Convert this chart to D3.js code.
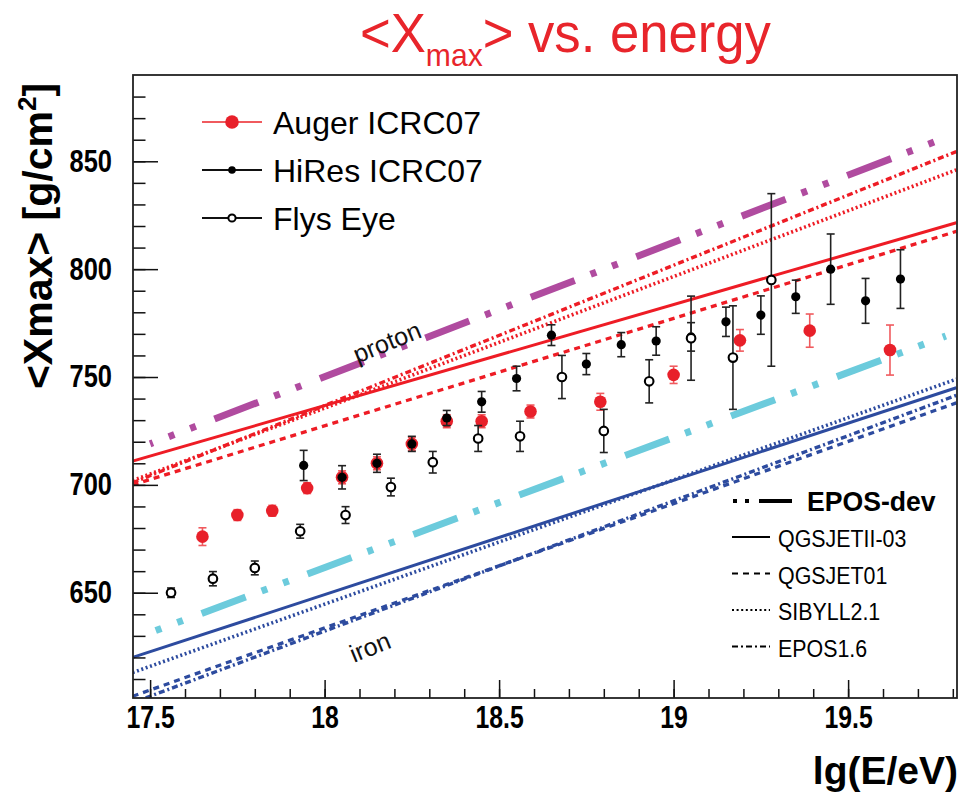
<!DOCTYPE html>
<html>
<head>
<meta charset="utf-8">
<script src="https://cdn.jsdelivr.net/npm/d3@7"></script>
<style>
  body { margin: 0; background: #fff; }
  svg { display: block; }
  text { font-family: "Liberation Sans", Arial, Helvetica, sans-serif; }
</style>
</head>
<body>
<svg id="chart" width="971" height="796"></svg>
<script>
// ---- data -------------------------------------------------------------
const xMajorTicks = [17.5, 18, 18.5, 19, 19.5];
const yMajorTicks = [650, 700, 750, 800, 850];

// Auger ICRC07
const augerLgE  = [17.65, 17.75, 17.85, 17.95, 18.05, 18.15, 18.25, 18.35, 18.45, 18.59, 18.79, 19.00, 19.19, 19.39, 19.62];
const augerXmax = [676, 686, 688, 698.5, 703.5, 710, 719, 729.5, 729.5, 734, 738.5, 751, 767, 771.5, 762.5];
const augerErr  = [4.1, 2.5, 2.5, 2.5, 3, 3, 3, 3, 3, 3, 3.9, 4, 5, 7.7, 11.6];

// HiRes ICRC07
const hiresLgE  = [17.94, 18.05, 18.15, 18.25, 18.35, 18.45, 18.55, 18.65, 18.75, 18.85, 18.95, 19.05, 19.15, 19.25, 19.35, 19.45, 19.55, 19.65];
const hiresXmax = [709, 703.5, 710, 719, 731, 738.5, 749.3, 769.4, 756, 765, 766.7, 768.6, 775.6, 778.7, 787.2, 800, 785.3, 795.4];
const hiresErr  = [7, 5.4, 4.2, 3.5, 3.5, 4.8, 5.7, 4.8, 4.9, 5.6, 6.6, 6.6, 6.8, 8.9, 7.7, 16.3, 10.4, 13.6];

// Fly's Eye
const flysLgE  = [17.56, 17.68, 17.80, 17.93, 18.06, 18.19, 18.31, 18.44, 18.56, 18.68, 18.80, 18.93, 19.05, 19.17, 19.28];
const flysXmax = [650, 656.5, 661.5, 678.5, 686, 699, 710.5, 721.5, 722.5, 750, 725, 748, 768, 759, 795];
const flysErr  = [2.2, 3.3, 3.2, 3.2, 3.9, 4.1, 5, 6, 7, 10, 10, 10, 19.5, 24, 40];

// hadronic interaction model predictions (straight lines in lg E)
const modelNames  = ["QGSJETII-03", "QGSJET01", "SIBYLL2.1", "EPOS1.6"];
const modelLgE    = [17.45, 19.81];
const protonStart = [711, 700, 702, 701];
const protonEnd   = [821.5, 817.5, 846, 854.5];
const ironStart   = [620, 602, 613, 599];
const ironEnd     = [745, 738, 749, 741.5];

const eposDevLgE    = [17.5, 19.78];
const eposDevProton = [719, 861];
const eposDevIron   = [631.5, 769];

// ---- layout -----------------------------------------------------------
const frame = { left: 133, right: 957, top: 75, bottom: 698 };
const svg = d3.select("#chart");

const x = d3.scaleLinear().domain([17.451, 19.812]).range([frame.left, frame.right]);
const y = d3.scaleLinear().domain([601.2, 890]).range([frame.bottom, frame.top]);

const RED = "#ee1c25", BLUE = "#2d4b9f", MAGENTA = "#b04b9f", CYAN = "#6ccbdc";
const dashes = { "QGSJETII-03": null, "QGSJET01": "6,5", "SIBYLL2.1": "2,2.6", "EPOS1.6": "6,3,2,3" };
const widths = { "QGSJETII-03": 3, "QGSJET01": 3.3, "SIBYLL2.1": 3.6, "EPOS1.6": 3.4 };

// squeeze text horizontally (narrow Helvetica look)
function condense(sel, k) {
  sel.each(function () {
    const w = this.getComputedTextLength();
    this.setAttribute("textLength", w * k);
    this.setAttribute("lengthAdjust", "spacingAndGlyphs");
  });
}

svg.append("defs").append("clipPath").attr("id", "plotclip")
  .append("rect")
  .attr("x", frame.left).attr("y", frame.top)
  .attr("width", frame.right - frame.left).attr("height", frame.bottom - frame.top);

// ---- title ------------------------------------------------------------
const title = svg.append("text")
  .attr("x", 360).attr("y", 52)
  .attr("fill", "#e8252b").attr("font-size", 56);
title.append("tspan").text("<X");
title.append("tspan").attr("font-size", 32).attr("dy", 14).text("max");
title.append("tspan").attr("dy", -14).text("> vs. energy");
title.call(condense, 0.94);

// ---- model lines ------------------------------------------------------
const plot = svg.append("g").attr("clip-path", "url(#plotclip)");
const line = d3.line().x(d => x(d[0])).y(d => y(d[1]));

modelNames.forEach((name, i) => {
  plot.append("path")
    .attr("d", line([[modelLgE[0], protonStart[i]], [modelLgE[1], protonEnd[i]]]))
    .attr("fill", "none").attr("stroke", RED).attr("stroke-width", widths[name])
    .attr("stroke-dasharray", dashes[name]);
  plot.append("path")
    .attr("d", line([[modelLgE[0], ironStart[i]], [modelLgE[1], ironEnd[i]]]))
    .attr("fill", "none").attr("stroke", BLUE).attr("stroke-width", widths[name])
    .attr("stroke-dasharray", dashes[name]);
});

// EPOS-dev: thick dot-dot-dash
plot.append("path")
  .attr("d", line(eposDevLgE.map((e, i) => [e, eposDevProton[i]])))
  .attr("fill", "none").attr("stroke", MAGENTA).attr("stroke-width", 7)
  .attr("stroke-dasharray", "47,17,6,17,6,20").attr("stroke-dashoffset", 44);
plot.append("path")
  .attr("d", line(eposDevLgE.map((e, i) => [e, eposDevIron[i]])))
  .attr("fill", "none").attr("stroke", CYAN).attr("stroke-width", 7)
  .attr("stroke-dasharray", "47,17,6,17,6,20").attr("stroke-dashoffset", 58);

// composition labels
svg.append("text").attr("transform", "translate(387,342) rotate(-22)")
  .attr("text-anchor", "middle").attr("dy", "0.35em")
  .attr("font-size", 25).attr("fill", "#111").text("proton");
svg.append("text").attr("transform", "translate(370,647) rotate(-22)")
  .attr("text-anchor", "middle").attr("dy", "0.35em")
  .attr("font-size", 25).attr("fill", "#111").text("iron");

// ---- data points ------------------------------------------------------
function errorBars(lg, val, err, color) {
  const g = plot.append("g").attr("stroke", color).attr("stroke-width", 1.6);
  lg.forEach((e, i) => {
    const cx = x(e), y0 = y(val[i] - err[i]), y1 = y(val[i] + err[i]);
    g.append("line").attr("x1", cx).attr("x2", cx).attr("y1", y0).attr("y2", y1);
    g.append("line").attr("x1", cx - 4).attr("x2", cx + 4).attr("y1", y0).attr("y2", y0);
    g.append("line").attr("x1", cx - 4).attr("x2", cx + 4).attr("y1", y1).attr("y2", y1);
  });
}

errorBars(augerLgE, augerXmax, augerErr, "#f05a5e");
plot.append("g").selectAll("circle").data(augerLgE).join("circle")
  .attr("cx", d => x(d)).attr("cy", (d, i) => y(augerXmax[i]))
  .attr("r", 6.3).attr("fill", "#e8202a");

errorBars(hiresLgE, hiresXmax, hiresErr, "#222");
plot.append("g").selectAll("circle").data(hiresLgE).join("circle")
  .attr("cx", d => x(d)).attr("cy", (d, i) => y(hiresXmax[i]))
  .attr("r", 4.6).attr("fill", "#000");

errorBars(flysLgE, flysXmax, flysErr, "#222");
plot.append("g").selectAll("circle").data(flysLgE).join("circle")
  .attr("cx", d => x(d)).attr("cy", (d, i) => y(flysXmax[i]))
  .attr("r", 4.3).attr("fill", "#fff").attr("stroke", "#000").attr("stroke-width", 2.1);

// ---- axes -------------------------------------------------------------
const xMinor = d3.range(175, 199).map(v => v / 10);
const yMinor = d3.range(61, 89).map(v => v * 10);

svg.append("g").attr("transform", `translate(0,${frame.bottom})`)
  .call(d3.axisBottom(x).tickValues(xMinor).tickSize(-9).tickFormat(""))
  .call(g => g.select(".domain").remove())
  .selectAll("line").attr("stroke", "#111").attr("stroke-width", 1.5);

const xAxis = svg.append("g").attr("transform", `translate(0,${frame.bottom})`)
  .call(d3.axisBottom(x).tickValues(xMajorTicks).tickSize(-18).tickPadding(8).tickFormat(d3.format("")))
  .call(g => g.select(".domain").remove());
xAxis.selectAll("line").attr("stroke", "#111").attr("stroke-width", 1.5);
xAxis.selectAll("text").attr("font-size", 31).attr("font-weight", "bold").attr("fill", "#000")
  .attr("font-family", "Liberation Sans, Arial, sans-serif")
  .call(condense, 0.8);

svg.append("g").attr("transform", `translate(${frame.left},0)`)
  .call(d3.axisLeft(y).tickValues(yMinor).tickSize(-12.5).tickFormat(""))
  .call(g => g.select(".domain").remove())
  .selectAll("line").attr("stroke", "#111").attr("stroke-width", 1.5);

const yAxis = svg.append("g").attr("transform", `translate(${frame.left},0)`)
  .call(d3.axisLeft(y).tickValues(yMajorTicks).tickSize(-25).tickPadding(21).tickFormat(d3.format("")))
  .call(g => g.select(".domain").remove());
yAxis.selectAll("line").attr("stroke", "#111").attr("stroke-width", 1.5);
yAxis.selectAll("text").attr("font-size", 31).attr("font-weight", "bold").attr("fill", "#000")
  .attr("font-family", "Liberation Sans, Arial, sans-serif")
  .call(condense, 0.82);

// frame
svg.append("rect")
  .attr("x", frame.left).attr("y", frame.top)
  .attr("width", frame.right - frame.left).attr("height", frame.bottom - frame.top)
  .attr("fill", "none").attr("stroke", "#222").attr("stroke-width", 1.8);

// axis titles
svg.append("text").attr("x", 958).attr("y", 784).attr("text-anchor", "end")
  .attr("font-size", 39).attr("font-weight", "bold").text("lg(E/eV)");

const yTitle = svg.append("text").attr("transform", "translate(52,236) rotate(-90)")
  .attr("text-anchor", "middle").attr("font-size", 41).attr("font-weight", "bold");
yTitle.append("tspan").text("<Xmax> [g/cm");
yTitle.append("tspan").attr("font-size", 26).attr("dy", -16).text("2");
yTitle.append("tspan").attr("dy", 16).text("]");

// ---- data legend (top left) ------------------------------------------
const dataLegend = [
  { label: "Auger ICRC07", y: 122, line: "#f05a5e", r: 6.8, fill: "#e8202a", stroke: "none" },
  { label: "HiRes ICRC07", y: 170, line: "#111", r: 3.8, fill: "#000", stroke: "none" },
  { label: "Flys Eye",     y: 218, line: "#111", r: 3.6, fill: "#fff", stroke: "#000" }
];
const dl = svg.append("g");
dataLegend.forEach(d => {
  dl.append("line").attr("x1", 202).attr("x2", 262).attr("y1", d.y).attr("y2", d.y)
    .attr("stroke", d.line).attr("stroke-width", 1.8);
  dl.append("circle").attr("cx", 232).attr("cy", d.y).attr("r", d.r)
    .attr("fill", d.fill).attr("stroke", d.stroke).attr("stroke-width", 2);
  dl.append("text").attr("x", 273).attr("y", d.y + 12).attr("font-size", 32).attr("fill", "#000").text(d.label);
});

// ---- model legend (bottom right) -------------------------------------
const ml = svg.append("g");
ml.append("line").attr("x1", 733).attr("x2", 792).attr("y1", 501).attr("y2", 501)
  .attr("stroke", "#000").attr("stroke-width", 4).attr("stroke-dasharray", "4,8,4,10,40");
ml.append("text").attr("x", 807).attr("y", 511).attr("font-size", 28).attr("font-weight", "bold")
  .text("EPOS-dev").call(condense, 0.95);

const legendY = [537, 573.5, 610, 646.5];
modelNames.forEach((name, i) => {
  ml.append("line").attr("x1", 732).attr("x2", 770).attr("y1", legendY[i]).attr("y2", legendY[i])
    .attr("stroke", "#000").attr("stroke-width", 2).attr("stroke-dasharray", dashes[name]);
  ml.append("text").attr("x", 778).attr("y", legendY[i] + 10).attr("font-size", 23)
    .attr("fill", "#000").text(name).call(condense, 0.93);
});
</script>
</body>
</html>
